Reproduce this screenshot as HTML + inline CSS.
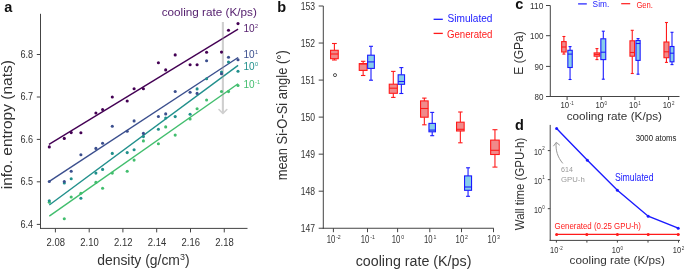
<!DOCTYPE html>
<html><head><meta charset="utf-8"><style>
html,body{margin:0;padding:0;background:#fff;}
svg{display:block;will-change:transform;}
text{font-family:"Liberation Sans", sans-serif;}
</style></head><body>
<svg width="685" height="269" viewBox="0 0 685 269">
<rect width="685" height="269" fill="#fff"/>
<text x="4.3" y="12.2" font-size="14.5" fill="#111" font-weight="bold">a</text>
<line x1="40.5" y1="13.8" x2="40.5" y2="228.9" stroke="#444" stroke-width="1"/>
<line x1="40.0" y1="228.4" x2="247.5" y2="228.4" stroke="#444" stroke-width="1"/>
<line x1="36.8" y1="54.5" x2="40.5" y2="54.5" stroke="#444" stroke-width="1"/>
<text x="33.1" y="57.9" font-size="10.1" fill="#333" text-anchor="end" textLength="12.6" lengthAdjust="spacingAndGlyphs">6.8</text>
<line x1="36.8" y1="97.0" x2="40.5" y2="97.0" stroke="#444" stroke-width="1"/>
<text x="33.1" y="100.4" font-size="10.1" fill="#333" text-anchor="end" textLength="12.6" lengthAdjust="spacingAndGlyphs">6.7</text>
<line x1="36.8" y1="139.4" x2="40.5" y2="139.4" stroke="#444" stroke-width="1"/>
<text x="33.1" y="142.8" font-size="10.1" fill="#333" text-anchor="end" textLength="12.6" lengthAdjust="spacingAndGlyphs">6.6</text>
<line x1="36.8" y1="181.8" x2="40.5" y2="181.8" stroke="#444" stroke-width="1"/>
<text x="33.1" y="185.20000000000002" font-size="10.1" fill="#333" text-anchor="end" textLength="12.6" lengthAdjust="spacingAndGlyphs">6.5</text>
<line x1="36.8" y1="224.4" x2="40.5" y2="224.4" stroke="#444" stroke-width="1"/>
<text x="33.1" y="227.8" font-size="10.1" fill="#333" text-anchor="end" textLength="12.6" lengthAdjust="spacingAndGlyphs">6.4</text>
<line x1="55.4" y1="228.4" x2="55.4" y2="232.4" stroke="#444" stroke-width="1"/>
<text x="55.699999999999996" y="246.0" font-size="10.2" fill="#333" text-anchor="middle" textLength="18.4" lengthAdjust="spacingAndGlyphs">2.08</text>
<line x1="89.2" y1="228.4" x2="89.2" y2="232.4" stroke="#444" stroke-width="1"/>
<text x="89.5" y="246.0" font-size="10.2" fill="#333" text-anchor="middle" textLength="18.4" lengthAdjust="spacingAndGlyphs">2.10</text>
<line x1="122.9" y1="228.4" x2="122.9" y2="232.4" stroke="#444" stroke-width="1"/>
<text x="123.2" y="246.0" font-size="10.2" fill="#333" text-anchor="middle" textLength="18.4" lengthAdjust="spacingAndGlyphs">2.12</text>
<line x1="156.7" y1="228.4" x2="156.7" y2="232.4" stroke="#444" stroke-width="1"/>
<text x="157.0" y="246.0" font-size="10.2" fill="#333" text-anchor="middle" textLength="18.4" lengthAdjust="spacingAndGlyphs">2.14</text>
<line x1="190.5" y1="228.4" x2="190.5" y2="232.4" stroke="#444" stroke-width="1"/>
<text x="190.8" y="246.0" font-size="10.2" fill="#333" text-anchor="middle" textLength="18.4" lengthAdjust="spacingAndGlyphs">2.16</text>
<line x1="224.25" y1="228.4" x2="224.25" y2="232.4" stroke="#444" stroke-width="1"/>
<text x="224.55" y="246.0" font-size="10.2" fill="#333" text-anchor="middle" textLength="18.4" lengthAdjust="spacingAndGlyphs">2.18</text>
<text x="97.2" y="265.4" font-size="14" fill="#333" textLength="92.4" lengthAdjust="spacingAndGlyphs">density (g/cm<tspan font-size="9" dy="-5">3</tspan><tspan dy="5">)</tspan></text>
<text x="11.8" y="189.3" font-size="14" fill="#333" textLength="129.2" lengthAdjust="spacingAndGlyphs" transform="rotate(-90 11.8 189.3)">info. entropy (nats)</text>
<line x1="49.0" y1="144.3" x2="238.1" y2="29.2" stroke="#440154" stroke-width="1.4"/>
<line x1="49.3" y1="181.3" x2="238.1" y2="57.5" stroke="#3b4f8e" stroke-width="1.4"/>
<line x1="49.3" y1="205.0" x2="238.1" y2="65.4" stroke="#21908c" stroke-width="1.4"/>
<line x1="49.3" y1="216.1" x2="238.1" y2="83.8" stroke="#42be6e" stroke-width="1.4"/>
<g opacity="0.42"><line x1="222.9" y1="22" x2="222.9" y2="113.2" stroke="#8f8f8f" stroke-width="2.1"/><polyline points="219.0,109.5 222.9,113.5 226.8,109.5" fill="none" stroke="#8f8f8f" stroke-width="1.6" stroke-linecap="round" stroke-linejoin="round"/></g>
<circle cx="49.3" cy="202.2" r="1.55" fill="#42be6e"/>
<circle cx="64.3" cy="218.7" r="1.55" fill="#42be6e"/>
<circle cx="71.2" cy="197.0" r="1.55" fill="#42be6e"/>
<circle cx="80.9" cy="193.2" r="1.55" fill="#42be6e"/>
<circle cx="95.9" cy="182.4" r="1.55" fill="#42be6e"/>
<circle cx="102.6" cy="188.3" r="1.55" fill="#42be6e"/>
<circle cx="112.3" cy="173.1" r="1.55" fill="#42be6e"/>
<circle cx="127.2" cy="171.2" r="1.55" fill="#42be6e"/>
<circle cx="134.1" cy="160.1" r="1.55" fill="#42be6e"/>
<circle cx="143.4" cy="140.9" r="1.55" fill="#42be6e"/>
<circle cx="158.4" cy="143.7" r="1.55" fill="#42be6e"/>
<circle cx="165.7" cy="126.9" r="1.55" fill="#42be6e"/>
<circle cx="175.2" cy="135.1" r="1.55" fill="#42be6e"/>
<circle cx="190.1" cy="119.0" r="1.55" fill="#42be6e"/>
<circle cx="197.1" cy="108.8" r="1.55" fill="#42be6e"/>
<circle cx="206.6" cy="100.0" r="1.55" fill="#42be6e"/>
<circle cx="221.5" cy="91.5" r="1.55" fill="#42be6e"/>
<circle cx="228.5" cy="91.6" r="1.55" fill="#42be6e"/>
<circle cx="238.0" cy="85.5" r="1.55" fill="#42be6e"/>
<circle cx="49.3" cy="200.7" r="1.55" fill="#21908c"/>
<circle cx="64.3" cy="183.0" r="1.55" fill="#21908c"/>
<circle cx="71.2" cy="178.7" r="1.55" fill="#21908c"/>
<circle cx="80.9" cy="198.3" r="1.55" fill="#21908c"/>
<circle cx="95.9" cy="173.1" r="1.55" fill="#21908c"/>
<circle cx="102.6" cy="169.4" r="1.55" fill="#21908c"/>
<circle cx="112.3" cy="153.4" r="1.55" fill="#21908c"/>
<circle cx="127.2" cy="152.6" r="1.55" fill="#21908c"/>
<circle cx="134.1" cy="149.7" r="1.55" fill="#21908c"/>
<circle cx="143.4" cy="136.6" r="1.55" fill="#21908c"/>
<circle cx="158.4" cy="129.2" r="1.55" fill="#21908c"/>
<circle cx="165.7" cy="118.0" r="1.55" fill="#21908c"/>
<circle cx="175.2" cy="116.6" r="1.55" fill="#21908c"/>
<circle cx="190.1" cy="114.2" r="1.55" fill="#21908c"/>
<circle cx="197.1" cy="88.9" r="1.55" fill="#21908c"/>
<circle cx="206.6" cy="78.7" r="1.55" fill="#21908c"/>
<circle cx="221.5" cy="72.0" r="1.55" fill="#21908c"/>
<circle cx="228.5" cy="62.0" r="1.55" fill="#21908c"/>
<circle cx="238.0" cy="71.3" r="1.55" fill="#21908c"/>
<circle cx="49.3" cy="181.5" r="1.55" fill="#3b4f8e"/>
<circle cx="64.3" cy="181.5" r="1.55" fill="#3b4f8e"/>
<circle cx="71.2" cy="171.2" r="1.55" fill="#3b4f8e"/>
<circle cx="80.9" cy="154.7" r="1.55" fill="#3b4f8e"/>
<circle cx="95.9" cy="148.4" r="1.55" fill="#3b4f8e"/>
<circle cx="102.6" cy="143.3" r="1.55" fill="#3b4f8e"/>
<circle cx="112.3" cy="126.2" r="1.55" fill="#3b4f8e"/>
<circle cx="127.2" cy="131.2" r="1.55" fill="#3b4f8e"/>
<circle cx="134.1" cy="120.9" r="1.55" fill="#3b4f8e"/>
<circle cx="143.4" cy="133.4" r="1.55" fill="#3b4f8e"/>
<circle cx="158.4" cy="116.5" r="1.55" fill="#3b4f8e"/>
<circle cx="165.7" cy="113.9" r="1.55" fill="#3b4f8e"/>
<circle cx="175.2" cy="91.5" r="1.55" fill="#3b4f8e"/>
<circle cx="190.1" cy="92.3" r="1.55" fill="#3b4f8e"/>
<circle cx="197.1" cy="93.4" r="1.55" fill="#3b4f8e"/>
<circle cx="206.6" cy="60.8" r="1.55" fill="#3b4f8e"/>
<circle cx="221.5" cy="73.7" r="1.55" fill="#3b4f8e"/>
<circle cx="228.5" cy="57.2" r="1.55" fill="#3b4f8e"/>
<circle cx="238.0" cy="59.8" r="1.55" fill="#3b4f8e"/>
<circle cx="49.3" cy="146.9" r="1.55" fill="#440154"/>
<circle cx="64.3" cy="138.4" r="1.55" fill="#440154"/>
<circle cx="71.2" cy="132.6" r="1.55" fill="#440154"/>
<circle cx="80.9" cy="132.8" r="1.55" fill="#440154"/>
<circle cx="95.9" cy="113" r="1.55" fill="#440154"/>
<circle cx="102.6" cy="109.5" r="1.55" fill="#440154"/>
<circle cx="112.3" cy="97" r="1.55" fill="#440154"/>
<circle cx="127.2" cy="101" r="1.55" fill="#440154"/>
<circle cx="134.1" cy="88.8" r="1.55" fill="#440154"/>
<circle cx="143.4" cy="88.8" r="1.55" fill="#440154"/>
<circle cx="158.4" cy="62.8" r="1.55" fill="#440154"/>
<circle cx="165.7" cy="69.9" r="1.55" fill="#440154"/>
<circle cx="175.2" cy="54.9" r="1.55" fill="#440154"/>
<circle cx="190.1" cy="64.7" r="1.55" fill="#440154"/>
<circle cx="197.1" cy="64.7" r="1.55" fill="#440154"/>
<circle cx="206.6" cy="52.2" r="1.55" fill="#440154"/>
<circle cx="221.5" cy="52.1" r="1.55" fill="#440154"/>
<circle cx="228.5" cy="30.2" r="1.55" fill="#440154"/>
<circle cx="238.0" cy="23.6" r="1.55" fill="#440154"/>
<text x="161.7" y="16.1" font-size="11" fill="#521c6c" textLength="95.1" lengthAdjust="spacingAndGlyphs">cooling rate (K/ps)</text>
<text x="243.40" y="32.0" font-size="11.4" fill="#521c6c" textLength="11.2" lengthAdjust="spacingAndGlyphs">10</text>
<text x="255.10" y="27.80" font-size="6.20" fill="#521c6c" textLength="3.10" lengthAdjust="spacingAndGlyphs">2</text>
<text x="243.40" y="57.8" font-size="11.4" fill="#3b4f8e" textLength="11.2" lengthAdjust="spacingAndGlyphs">10</text>
<text x="255.10" y="53.60" font-size="6.20" fill="#3b4f8e" textLength="3.10" lengthAdjust="spacingAndGlyphs">1</text>
<text x="243.40" y="70.1" font-size="11.4" fill="#21908c" textLength="11.2" lengthAdjust="spacingAndGlyphs">10</text>
<text x="255.10" y="65.90" font-size="6.20" fill="#21908c" textLength="3.10" lengthAdjust="spacingAndGlyphs">0</text>
<text x="243.40" y="87.8" font-size="11.4" fill="#42be6e" textLength="11.2" lengthAdjust="spacingAndGlyphs">10</text>
<text x="255.10" y="83.60" font-size="6.20" fill="#42be6e" textLength="4.96" lengthAdjust="spacingAndGlyphs">-1</text>
<text x="277.3" y="12.3" font-size="14.5" fill="#111" font-weight="bold">b</text>
<line x1="323.3" y1="6.0" x2="323.3" y2="228.75" stroke="#444" stroke-width="1"/>
<line x1="322.8" y1="228.25" x2="493.8" y2="228.25" stroke="#444" stroke-width="1"/>
<line x1="318.7" y1="6.0" x2="323.3" y2="6.0" stroke="#444" stroke-width="1"/>
<text x="315.1" y="9.5" font-size="10.1" fill="#333" text-anchor="end" textLength="14.3" lengthAdjust="spacingAndGlyphs">153</text>
<line x1="318.7" y1="43.04" x2="323.3" y2="43.04" stroke="#444" stroke-width="1"/>
<text x="315.1" y="46.54" font-size="10.1" fill="#333" text-anchor="end" textLength="14.3" lengthAdjust="spacingAndGlyphs">152</text>
<line x1="318.7" y1="80.08" x2="323.3" y2="80.08" stroke="#444" stroke-width="1"/>
<text x="315.1" y="83.58" font-size="10.1" fill="#333" text-anchor="end" textLength="14.3" lengthAdjust="spacingAndGlyphs">151</text>
<line x1="318.7" y1="117.12" x2="323.3" y2="117.12" stroke="#444" stroke-width="1"/>
<text x="315.1" y="120.62" font-size="10.1" fill="#333" text-anchor="end" textLength="14.3" lengthAdjust="spacingAndGlyphs">150</text>
<line x1="318.7" y1="154.16" x2="323.3" y2="154.16" stroke="#444" stroke-width="1"/>
<text x="315.1" y="157.66" font-size="10.1" fill="#333" text-anchor="end" textLength="14.3" lengthAdjust="spacingAndGlyphs">149</text>
<line x1="318.7" y1="191.2" x2="323.3" y2="191.2" stroke="#444" stroke-width="1"/>
<text x="315.1" y="194.7" font-size="10.1" fill="#333" text-anchor="end" textLength="14.3" lengthAdjust="spacingAndGlyphs">148</text>
<line x1="318.7" y1="228.24" x2="323.3" y2="228.24" stroke="#444" stroke-width="1"/>
<text x="315.1" y="231.74" font-size="10.1" fill="#333" text-anchor="end" textLength="14.3" lengthAdjust="spacingAndGlyphs">147</text>
<line x1="333.4" y1="228.25" x2="333.4" y2="232.2" stroke="#444" stroke-width="1"/>
<text x="326.63" y="243.0" font-size="10.2" fill="#333" textLength="8.6" lengthAdjust="spacingAndGlyphs">10</text>
<text x="336.13" y="239.40" font-size="5.80" fill="#333" textLength="4.64" lengthAdjust="spacingAndGlyphs">-2</text>
<line x1="367.5" y1="228.25" x2="367.5" y2="232.2" stroke="#444" stroke-width="1"/>
<text x="360.73" y="243.0" font-size="10.2" fill="#333" textLength="8.6" lengthAdjust="spacingAndGlyphs">10</text>
<text x="370.23" y="239.40" font-size="5.80" fill="#333" textLength="4.64" lengthAdjust="spacingAndGlyphs">-1</text>
<line x1="397.6" y1="228.25" x2="397.6" y2="232.2" stroke="#444" stroke-width="1"/>
<text x="391.70" y="243.0" font-size="10.2" fill="#333" textLength="8.6" lengthAdjust="spacingAndGlyphs">10</text>
<text x="401.20" y="239.40" font-size="5.80" fill="#333" textLength="2.90" lengthAdjust="spacingAndGlyphs">0</text>
<line x1="429.8" y1="228.25" x2="429.8" y2="232.2" stroke="#444" stroke-width="1"/>
<text x="423.90" y="243.0" font-size="10.2" fill="#333" textLength="8.6" lengthAdjust="spacingAndGlyphs">10</text>
<text x="433.40" y="239.40" font-size="5.80" fill="#333" textLength="2.90" lengthAdjust="spacingAndGlyphs">1</text>
<line x1="461.5" y1="228.25" x2="461.5" y2="232.2" stroke="#444" stroke-width="1"/>
<text x="455.60" y="243.0" font-size="10.2" fill="#333" textLength="8.6" lengthAdjust="spacingAndGlyphs">10</text>
<text x="465.10" y="239.40" font-size="5.80" fill="#333" textLength="2.90" lengthAdjust="spacingAndGlyphs">2</text>
<line x1="493.5" y1="228.25" x2="493.5" y2="232.2" stroke="#444" stroke-width="1"/>
<text x="487.60" y="243.0" font-size="10.2" fill="#333" textLength="8.6" lengthAdjust="spacingAndGlyphs">10</text>
<text x="497.10" y="239.40" font-size="5.80" fill="#333" textLength="2.90" lengthAdjust="spacingAndGlyphs">3</text>
<text x="355.7" y="265.8" font-size="14" fill="#333" textLength="115.7" lengthAdjust="spacingAndGlyphs">cooling rate (K/ps)</text>
<text x="287.2" y="180.3" font-size="14.3" fill="#333" textLength="130.0" lengthAdjust="spacingAndGlyphs" transform="rotate(-90 287.2 180.3)">mean Si-O-Si angle (°)</text>
<line x1="433.6" y1="19.3" x2="442.8" y2="19.3" stroke="#1a1aff" stroke-width="1.3"/>
<text x="447.6" y="22.2" font-size="11" fill="#1a1aff" textLength="44.9" lengthAdjust="spacingAndGlyphs">Simulated</text>
<line x1="433.6" y1="33.4" x2="442.8" y2="33.4" stroke="#ff1a1a" stroke-width="1.3"/>
<text x="446.9" y="37.8" font-size="11" fill="#ff1a1a" textLength="45.6" lengthAdjust="spacingAndGlyphs">Generated</text>
<line x1="334.4" y1="43.5" x2="334.4" y2="50.3" stroke="#ff1a1a" stroke-width="1.1"/>
<line x1="334.4" y1="58.7" x2="334.4" y2="60.0" stroke="#ff1a1a" stroke-width="1.1"/>
<line x1="332.0" y1="43.5" x2="336.79999999999995" y2="43.5" stroke="#ff1a1a" stroke-width="1.1"/>
<line x1="332.0" y1="60.0" x2="336.79999999999995" y2="60.0" stroke="#ff1a1a" stroke-width="1.1"/>
<rect x="330.55" y="50.3" width="7.700000000000012" height="8.400000000000006" fill="#f08a8a" stroke="#ff1a1a" stroke-width="1.1"/>
<line x1="330.55" y1="54.0" x2="338.25" y2="54.0" stroke="#ff1a1a" stroke-width="1.1"/>
<line x1="363.15" y1="61.3" x2="363.15" y2="63.6" stroke="#ff1a1a" stroke-width="1.1"/>
<line x1="363.15" y1="70.4" x2="363.15" y2="75.5" stroke="#ff1a1a" stroke-width="1.1"/>
<line x1="360.95" y1="61.3" x2="365.34999999999997" y2="61.3" stroke="#ff1a1a" stroke-width="1.1"/>
<line x1="360.95" y1="75.5" x2="365.34999999999997" y2="75.5" stroke="#ff1a1a" stroke-width="1.1"/>
<rect x="359.25" y="63.6" width="7.8000000000000345" height="6.800000000000004" fill="#f08a8a" stroke="#ff1a1a" stroke-width="1.1"/>
<line x1="359.25" y1="64.0" x2="367.05" y2="64.0" stroke="#ff1a1a" stroke-width="1.1"/>
<line x1="393.29999999999995" y1="71.4" x2="393.29999999999995" y2="84.2" stroke="#ff1a1a" stroke-width="1.1"/>
<line x1="393.29999999999995" y1="93.3" x2="393.29999999999995" y2="97.4" stroke="#ff1a1a" stroke-width="1.1"/>
<line x1="391.09999999999997" y1="71.4" x2="395.49999999999994" y2="71.4" stroke="#ff1a1a" stroke-width="1.1"/>
<line x1="391.09999999999997" y1="97.4" x2="395.49999999999994" y2="97.4" stroke="#ff1a1a" stroke-width="1.1"/>
<rect x="389.25" y="84.2" width="8.099999999999989" height="9.099999999999994" fill="#f08a8a" stroke="#ff1a1a" stroke-width="1.1"/>
<line x1="389.25" y1="88.2" x2="397.34999999999997" y2="88.2" stroke="#ff1a1a" stroke-width="1.1"/>
<line x1="424.35" y1="98.1" x2="424.35" y2="100.9" stroke="#ff1a1a" stroke-width="1.1"/>
<line x1="424.35" y1="117.2" x2="424.35" y2="124.8" stroke="#ff1a1a" stroke-width="1.1"/>
<line x1="422.15000000000003" y1="98.1" x2="426.55" y2="98.1" stroke="#ff1a1a" stroke-width="1.1"/>
<line x1="422.15000000000003" y1="124.8" x2="426.55" y2="124.8" stroke="#ff1a1a" stroke-width="1.1"/>
<rect x="420.55" y="100.9" width="7.599999999999989" height="16.299999999999997" fill="#f08a8a" stroke="#ff1a1a" stroke-width="1.1"/>
<line x1="420.55" y1="108.5" x2="428.15" y2="108.5" stroke="#ff1a1a" stroke-width="1.1"/>
<line x1="460.35" y1="112.0" x2="460.35" y2="122.2" stroke="#ff1a1a" stroke-width="1.1"/>
<line x1="460.35" y1="131.0" x2="460.35" y2="142.8" stroke="#ff1a1a" stroke-width="1.1"/>
<line x1="458.15000000000003" y1="112.0" x2="462.55" y2="112.0" stroke="#ff1a1a" stroke-width="1.1"/>
<line x1="458.15000000000003" y1="142.8" x2="462.55" y2="142.8" stroke="#ff1a1a" stroke-width="1.1"/>
<rect x="456.55" y="122.2" width="7.599999999999989" height="8.799999999999997" fill="#f08a8a" stroke="#ff1a1a" stroke-width="1.1"/>
<line x1="456.55" y1="129.3" x2="464.15" y2="129.3" stroke="#ff1a1a" stroke-width="1.1"/>
<line x1="494.95000000000005" y1="129.7" x2="494.95000000000005" y2="140.1" stroke="#ff1a1a" stroke-width="1.1"/>
<line x1="494.95000000000005" y1="154.5" x2="494.95000000000005" y2="167.1" stroke="#ff1a1a" stroke-width="1.1"/>
<line x1="492.45000000000005" y1="129.7" x2="497.45000000000005" y2="129.7" stroke="#ff1a1a" stroke-width="1.1"/>
<line x1="492.45000000000005" y1="167.1" x2="497.45000000000005" y2="167.1" stroke="#ff1a1a" stroke-width="1.1"/>
<rect x="490.65000000000003" y="140.1" width="8.599999999999989" height="14.400000000000006" fill="#f08a8a" stroke="#ff1a1a" stroke-width="1.1"/>
<line x1="490.65000000000003" y1="150.3" x2="499.25" y2="150.3" stroke="#ff1a1a" stroke-width="1.1"/>
<line x1="371.0" y1="46.3" x2="371.0" y2="55.2" stroke="#1a1aff" stroke-width="1.1"/>
<line x1="371.0" y1="68.4" x2="371.0" y2="80.2" stroke="#1a1aff" stroke-width="1.1"/>
<line x1="369.0" y1="46.3" x2="373.0" y2="46.3" stroke="#1a1aff" stroke-width="1.1"/>
<line x1="369.0" y1="80.2" x2="373.0" y2="80.2" stroke="#1a1aff" stroke-width="1.1"/>
<rect x="367.65000000000003" y="55.2" width="6.699999999999955" height="13.200000000000003" fill="#87cdea" stroke="#1a1aff" stroke-width="1.1"/>
<line x1="367.65000000000003" y1="61.9" x2="374.34999999999997" y2="61.9" stroke="#1a1aff" stroke-width="1.1"/>
<line x1="401.35" y1="67.6" x2="401.35" y2="74.8" stroke="#1a1aff" stroke-width="1.1"/>
<line x1="401.35" y1="84.3" x2="401.35" y2="93.5" stroke="#1a1aff" stroke-width="1.1"/>
<line x1="399.35" y1="67.6" x2="403.35" y2="67.6" stroke="#1a1aff" stroke-width="1.1"/>
<line x1="399.35" y1="93.5" x2="403.35" y2="93.5" stroke="#1a1aff" stroke-width="1.1"/>
<rect x="398.15000000000003" y="74.8" width="6.4" height="9.5" fill="#87cdea" stroke="#1a1aff" stroke-width="1.1"/>
<line x1="398.15000000000003" y1="81.5" x2="404.55" y2="81.5" stroke="#1a1aff" stroke-width="1.1"/>
<line x1="432.2" y1="112.4" x2="432.2" y2="123.4" stroke="#1a1aff" stroke-width="1.1"/>
<line x1="432.2" y1="131.8" x2="432.2" y2="135.7" stroke="#1a1aff" stroke-width="1.1"/>
<line x1="430.2" y1="112.4" x2="434.2" y2="112.4" stroke="#1a1aff" stroke-width="1.1"/>
<line x1="430.2" y1="135.7" x2="434.2" y2="135.7" stroke="#1a1aff" stroke-width="1.1"/>
<rect x="428.95" y="123.4" width="6.500000000000023" height="8.400000000000006" fill="#87cdea" stroke="#1a1aff" stroke-width="1.1"/>
<line x1="428.95" y1="130.1" x2="435.45" y2="130.1" stroke="#1a1aff" stroke-width="1.1"/>
<line x1="468.05" y1="167.8" x2="468.05" y2="175.9" stroke="#1a1aff" stroke-width="1.1"/>
<line x1="468.05" y1="190.3" x2="468.05" y2="196.3" stroke="#1a1aff" stroke-width="1.1"/>
<line x1="466.05" y1="167.8" x2="470.05" y2="167.8" stroke="#1a1aff" stroke-width="1.1"/>
<line x1="466.05" y1="196.3" x2="470.05" y2="196.3" stroke="#1a1aff" stroke-width="1.1"/>
<rect x="464.55" y="175.9" width="7.000000000000023" height="14.400000000000006" fill="#87cdea" stroke="#1a1aff" stroke-width="1.1"/>
<line x1="464.55" y1="187.0" x2="471.55" y2="187.0" stroke="#1a1aff" stroke-width="1.1"/>
<circle cx="335.0" cy="75.1" r="1.55" fill="none" stroke="#222" stroke-width="0.75"/>
<text x="515.3" y="9.3" font-size="14.5" fill="#111" font-weight="bold">c</text>
<line x1="550.3" y1="5.5" x2="550.3" y2="97.0" stroke="#444" stroke-width="1"/>
<line x1="549.8" y1="96.5" x2="679.5" y2="96.5" stroke="#444" stroke-width="1"/>
<line x1="546.0" y1="5.5" x2="550.3" y2="5.5" stroke="#444" stroke-width="1"/>
<text x="543.4" y="8.8" font-size="8.7" fill="#333" text-anchor="end" textLength="13.4" lengthAdjust="spacingAndGlyphs">110</text>
<line x1="546.0" y1="35.7" x2="550.3" y2="35.7" stroke="#444" stroke-width="1"/>
<text x="543.4" y="39.0" font-size="8.7" fill="#333" text-anchor="end" textLength="13.4" lengthAdjust="spacingAndGlyphs">100</text>
<line x1="546.0" y1="66.4" x2="550.3" y2="66.4" stroke="#444" stroke-width="1"/>
<text x="543.4" y="69.7" font-size="8.7" fill="#333" text-anchor="end" textLength="8.9" lengthAdjust="spacingAndGlyphs">90</text>
<line x1="546.0" y1="96.5" x2="550.3" y2="96.5" stroke="#444" stroke-width="1"/>
<text x="543.4" y="99.8" font-size="8.7" fill="#333" text-anchor="end" textLength="8.9" lengthAdjust="spacingAndGlyphs">80</text>
<line x1="567.1" y1="96.5" x2="567.1" y2="100.0" stroke="#444" stroke-width="1"/>
<text x="560.55" y="108.2" font-size="8.6" fill="#333" textLength="8.6" lengthAdjust="spacingAndGlyphs">10</text>
<text x="569.65" y="105.40" font-size="5.00" fill="#333" textLength="4.00" lengthAdjust="spacingAndGlyphs">-1</text>
<line x1="601.2" y1="96.5" x2="601.2" y2="100.0" stroke="#444" stroke-width="1"/>
<text x="595.40" y="108.2" font-size="8.6" fill="#333" textLength="8.6" lengthAdjust="spacingAndGlyphs">10</text>
<text x="604.50" y="105.40" font-size="5.00" fill="#333" textLength="2.50" lengthAdjust="spacingAndGlyphs">0</text>
<line x1="634.9" y1="96.5" x2="634.9" y2="100.0" stroke="#444" stroke-width="1"/>
<text x="629.10" y="108.2" font-size="8.6" fill="#333" textLength="8.6" lengthAdjust="spacingAndGlyphs">10</text>
<text x="638.20" y="105.40" font-size="5.00" fill="#333" textLength="2.50" lengthAdjust="spacingAndGlyphs">1</text>
<line x1="668.6" y1="96.5" x2="668.6" y2="100.0" stroke="#444" stroke-width="1"/>
<text x="662.80" y="108.2" font-size="8.6" fill="#333" textLength="8.6" lengthAdjust="spacingAndGlyphs">10</text>
<text x="671.90" y="105.40" font-size="5.00" fill="#333" textLength="2.50" lengthAdjust="spacingAndGlyphs">2</text>
<text x="566.7" y="120.4" font-size="11" fill="#333" textLength="95.3" lengthAdjust="spacingAndGlyphs">cooling rate (K/ps)</text>
<text x="522.9" y="74.7" font-size="12" fill="#333" textLength="43.5" lengthAdjust="spacingAndGlyphs" transform="rotate(-90 522.9 74.7)">E (GPa)</text>
<line x1="578.1" y1="3.9" x2="586.8" y2="3.9" stroke="#1a1aff" stroke-width="1.2"/>
<text x="592.6" y="7.2" font-size="9" fill="#1a1aff" textLength="16.6" lengthAdjust="spacingAndGlyphs">Sim.</text>
<line x1="621.2" y1="3.7" x2="630.2" y2="3.7" stroke="#ff1a1a" stroke-width="1.2"/>
<text x="636.4" y="7.6" font-size="9" fill="#ff1a1a" textLength="16.6" lengthAdjust="spacingAndGlyphs">Gen.</text>
<line x1="563.9000000000001" y1="36.5" x2="563.9000000000001" y2="41.6" stroke="#ff1a1a" stroke-width="1.1"/>
<line x1="563.9000000000001" y1="52.0" x2="563.9000000000001" y2="54.1" stroke="#ff1a1a" stroke-width="1.1"/>
<line x1="562.4000000000001" y1="36.5" x2="565.4000000000001" y2="36.5" stroke="#ff1a1a" stroke-width="1.1"/>
<line x1="562.4000000000001" y1="54.1" x2="565.4000000000001" y2="54.1" stroke="#ff1a1a" stroke-width="1.1"/>
<rect x="561.65" y="41.6" width="4.500000000000023" height="10.399999999999999" fill="#f08a8a" stroke="#ff1a1a" stroke-width="1.1"/>
<line x1="561.65" y1="47.0" x2="566.1500000000001" y2="47.0" stroke="#ff1a1a" stroke-width="1.1"/>
<line x1="570.05" y1="46.6" x2="570.05" y2="50.3" stroke="#1a1aff" stroke-width="1.1"/>
<line x1="570.05" y1="67.5" x2="570.05" y2="79.5" stroke="#1a1aff" stroke-width="1.1"/>
<line x1="568.55" y1="46.6" x2="571.55" y2="46.6" stroke="#1a1aff" stroke-width="1.1"/>
<line x1="568.55" y1="79.5" x2="571.55" y2="79.5" stroke="#1a1aff" stroke-width="1.1"/>
<rect x="567.8499999999999" y="50.3" width="4.4" height="17.200000000000003" fill="#87cdea" stroke="#1a1aff" stroke-width="1.1"/>
<line x1="567.8499999999999" y1="54.1" x2="572.25" y2="54.1" stroke="#1a1aff" stroke-width="1.1"/>
<line x1="596.95" y1="48.6" x2="596.95" y2="52.9" stroke="#ff1a1a" stroke-width="1.1"/>
<line x1="596.95" y1="56.2" x2="596.95" y2="59.6" stroke="#ff1a1a" stroke-width="1.1"/>
<line x1="595.45" y1="48.6" x2="598.45" y2="48.6" stroke="#ff1a1a" stroke-width="1.1"/>
<line x1="595.45" y1="59.6" x2="598.45" y2="59.6" stroke="#ff1a1a" stroke-width="1.1"/>
<rect x="594.15" y="52.9" width="5.599999999999932" height="3.3000000000000043" fill="#f08a8a" stroke="#ff1a1a" stroke-width="1.1"/>
<line x1="594.15" y1="54.4" x2="599.75" y2="54.4" stroke="#ff1a1a" stroke-width="1.1"/>
<line x1="603.3" y1="31.2" x2="603.3" y2="38.8" stroke="#1a1aff" stroke-width="1.1"/>
<line x1="603.3" y1="59.6" x2="603.3" y2="79.2" stroke="#1a1aff" stroke-width="1.1"/>
<line x1="601.8" y1="31.2" x2="604.8" y2="31.2" stroke="#1a1aff" stroke-width="1.1"/>
<line x1="601.8" y1="79.2" x2="604.8" y2="79.2" stroke="#1a1aff" stroke-width="1.1"/>
<rect x="600.8499999999999" y="38.8" width="4.9" height="20.800000000000004" fill="#87cdea" stroke="#1a1aff" stroke-width="1.1"/>
<line x1="600.8499999999999" y1="52.2" x2="605.75" y2="52.2" stroke="#1a1aff" stroke-width="1.1"/>
<line x1="632.25" y1="30.3" x2="632.25" y2="40.8" stroke="#ff1a1a" stroke-width="1.1"/>
<line x1="632.25" y1="56.2" x2="632.25" y2="73.5" stroke="#ff1a1a" stroke-width="1.1"/>
<line x1="630.75" y1="30.3" x2="633.75" y2="30.3" stroke="#ff1a1a" stroke-width="1.1"/>
<line x1="630.75" y1="73.5" x2="633.75" y2="73.5" stroke="#ff1a1a" stroke-width="1.1"/>
<rect x="629.9499999999999" y="40.8" width="4.600000000000046" height="15.400000000000006" fill="#f08a8a" stroke="#ff1a1a" stroke-width="1.1"/>
<line x1="629.9499999999999" y1="52.5" x2="634.5500000000001" y2="52.5" stroke="#ff1a1a" stroke-width="1.1"/>
<line x1="638.05" y1="38.6" x2="638.05" y2="40.5" stroke="#1a1aff" stroke-width="1.1"/>
<line x1="638.05" y1="60.4" x2="638.05" y2="74.2" stroke="#1a1aff" stroke-width="1.1"/>
<line x1="636.55" y1="38.6" x2="639.55" y2="38.6" stroke="#1a1aff" stroke-width="1.1"/>
<line x1="636.55" y1="74.2" x2="639.55" y2="74.2" stroke="#1a1aff" stroke-width="1.1"/>
<rect x="635.9499999999999" y="40.5" width="4.200000000000069" height="19.9" fill="#87cdea" stroke="#1a1aff" stroke-width="1.1"/>
<line x1="635.9499999999999" y1="43.5" x2="640.1500000000001" y2="43.5" stroke="#1a1aff" stroke-width="1.1"/>
<line x1="666.45" y1="22.5" x2="666.45" y2="42.0" stroke="#ff1a1a" stroke-width="1.1"/>
<line x1="666.45" y1="57.7" x2="666.45" y2="62.4" stroke="#ff1a1a" stroke-width="1.1"/>
<line x1="664.95" y1="22.5" x2="667.95" y2="22.5" stroke="#ff1a1a" stroke-width="1.1"/>
<line x1="664.95" y1="62.4" x2="667.95" y2="62.4" stroke="#ff1a1a" stroke-width="1.1"/>
<rect x="663.9499999999999" y="42.0" width="5.000000000000023" height="15.700000000000003" fill="#f08a8a" stroke="#ff1a1a" stroke-width="1.1"/>
<line x1="663.9499999999999" y1="51.8" x2="668.95" y2="51.8" stroke="#ff1a1a" stroke-width="1.1"/>
<line x1="672.0" y1="32.3" x2="672.0" y2="46.5" stroke="#1a1aff" stroke-width="1.1"/>
<line x1="672.0" y1="61.8" x2="672.0" y2="64.6" stroke="#1a1aff" stroke-width="1.1"/>
<line x1="670.5" y1="32.3" x2="673.5" y2="32.3" stroke="#1a1aff" stroke-width="1.1"/>
<line x1="670.5" y1="64.6" x2="673.5" y2="64.6" stroke="#1a1aff" stroke-width="1.1"/>
<rect x="670.05" y="46.5" width="3.9" height="15.299999999999997" fill="#87cdea" stroke="#1a1aff" stroke-width="1.1"/>
<line x1="670.05" y1="53.2" x2="673.95" y2="53.2" stroke="#1a1aff" stroke-width="1.1"/>
<text x="514.9" y="130.1" font-size="14.5" fill="#111" font-weight="bold">d</text>
<line x1="550.2" y1="124.9" x2="550.2" y2="240.9" stroke="#444" stroke-width="1"/>
<line x1="549.7" y1="240.4" x2="680.0" y2="240.4" stroke="#444" stroke-width="1"/>
<line x1="547.8" y1="150.6" x2="550.2" y2="150.6" stroke="#444" stroke-width="1"/>
<text x="533.90" y="154.6" font-size="9.6" fill="#333" textLength="8.0" lengthAdjust="spacingAndGlyphs">10</text>
<text x="542.20" y="150.40" font-size="5.00" fill="#333" textLength="2.50" lengthAdjust="spacingAndGlyphs">2</text>
<line x1="547.8" y1="179.65" x2="550.2" y2="179.65" stroke="#444" stroke-width="1"/>
<text x="533.90" y="183.65" font-size="9.6" fill="#333" textLength="8.0" lengthAdjust="spacingAndGlyphs">10</text>
<text x="542.20" y="179.45" font-size="5.00" fill="#333" textLength="2.50" lengthAdjust="spacingAndGlyphs">1</text>
<line x1="547.8" y1="208.7" x2="550.2" y2="208.7" stroke="#444" stroke-width="1"/>
<text x="533.90" y="212.7" font-size="9.6" fill="#333" textLength="8.0" lengthAdjust="spacingAndGlyphs">10</text>
<text x="542.20" y="208.50" font-size="5.00" fill="#333" textLength="2.50" lengthAdjust="spacingAndGlyphs">0</text>
<line x1="556.4" y1="240.4" x2="556.4" y2="242.6" stroke="#444" stroke-width="1"/>
<line x1="586.9" y1="240.4" x2="586.9" y2="242.6" stroke="#444" stroke-width="1"/>
<line x1="617.4" y1="240.4" x2="617.4" y2="242.6" stroke="#444" stroke-width="1"/>
<line x1="648.0" y1="240.4" x2="648.0" y2="242.6" stroke="#444" stroke-width="1"/>
<line x1="678.5" y1="240.4" x2="678.5" y2="242.6" stroke="#444" stroke-width="1"/>
<text x="550.00" y="252.8" font-size="9.0" fill="#333" textLength="8.3" lengthAdjust="spacingAndGlyphs">10</text>
<text x="558.80" y="249.80" font-size="5.00" fill="#333" textLength="4.00" lengthAdjust="spacingAndGlyphs">-2</text>
<text x="611.75" y="252.8" font-size="9.0" fill="#333" textLength="8.3" lengthAdjust="spacingAndGlyphs">10</text>
<text x="620.55" y="249.80" font-size="5.00" fill="#333" textLength="2.50" lengthAdjust="spacingAndGlyphs">0</text>
<text x="672.85" y="252.8" font-size="9.0" fill="#333" textLength="8.3" lengthAdjust="spacingAndGlyphs">10</text>
<text x="681.65" y="249.80" font-size="5.00" fill="#333" textLength="2.50" lengthAdjust="spacingAndGlyphs">2</text>
<text x="569.6" y="263.7" font-size="11" fill="#333" textLength="95.3" lengthAdjust="spacingAndGlyphs">cooling rate (K/ps)</text>
<text x="523.8" y="230.2" font-size="12.3" fill="#333" textLength="92.4" lengthAdjust="spacingAndGlyphs" transform="rotate(-90 523.8 230.2)">Wall time (GPU-h)</text>
<line x1="556.6" y1="234.4" x2="679.5" y2="234.4" stroke="#ff1a1a" stroke-width="1.4"/>
<circle cx="556.6" cy="234.4" r="1.5" fill="#ff1a1a"/>
<circle cx="586.8" cy="234.4" r="1.5" fill="#ff1a1a"/>
<circle cx="617.4" cy="234.4" r="1.5" fill="#ff1a1a"/>
<circle cx="648.2" cy="234.4" r="1.5" fill="#ff1a1a"/>
<circle cx="678.2" cy="234.4" r="1.5" fill="#ff1a1a"/>
<polyline points="556.6,128.5 587.4,160.2 617.4,190.2 648.2,216.2 678.2,228.2" fill="none" stroke="#1a1aff" stroke-width="1.4"/>
<circle cx="556.6" cy="128.5" r="1.5" fill="#1a1aff"/>
<circle cx="587.4" cy="160.2" r="1.5" fill="#1a1aff"/>
<circle cx="617.4" cy="190.2" r="1.5" fill="#1a1aff"/>
<circle cx="648.2" cy="216.2" r="1.5" fill="#1a1aff"/>
<circle cx="678.2" cy="228.2" r="1.5" fill="#1a1aff"/>
<text x="614.9" y="181.3" font-size="10" fill="#1a1aff" textLength="38.6" lengthAdjust="spacingAndGlyphs">Simulated</text>
<text x="554.5" y="229.0" font-size="9.5" fill="#ff1a1a" textLength="86.3" lengthAdjust="spacingAndGlyphs">Generated (0.25 GPU-h)</text>
<text x="635.7" y="140.8" font-size="8.4" fill="#222" textLength="40.8" lengthAdjust="spacingAndGlyphs">3000 atoms</text>
<text x="561.0" y="171.8" font-size="8" fill="#999" textLength="11.9" lengthAdjust="spacingAndGlyphs">614</text>
<text x="561.0" y="181.9" font-size="8" fill="#999" textLength="23.7" lengthAdjust="spacingAndGlyphs">GPU-h</text>
<path d="M562.8,163.4 C557.6,157.2 555.4,150.2 556.2,142.6" fill="none" stroke="#999" stroke-width="1.0"/>
<polyline points="553.4,146.2 556.3,142.3 559.8,145.3" fill="none" stroke="#999" stroke-width="1.0"/>
</svg>
</body></html>
